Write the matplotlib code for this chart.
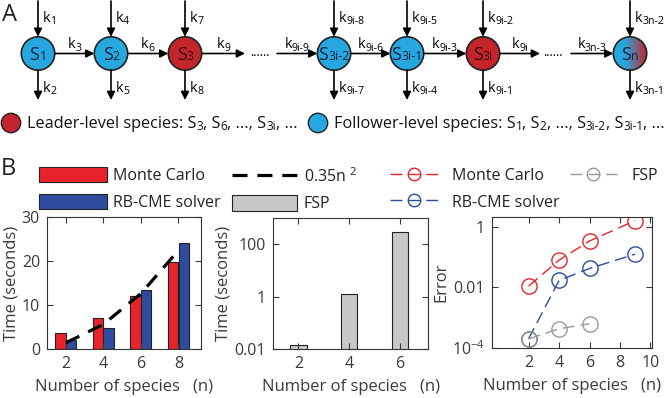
import re
import numpy as np
import matplotlib
matplotlib.use('Agg')
import matplotlib.pyplot as plt
from matplotlib.patches import Circle, Patch
from matplotlib.lines import Line2D
from matplotlib.colors import LinearSegmentedColormap
from matplotlib.ticker import FixedLocator, FixedFormatter, NullLocator

plt.rcParams['font.family'] = ['Open Sans', 'DejaVu Sans']
plt.rcParams['mathtext.default'] = 'regular'

# ---- panel A: reaction chain ----
node_names = ['S_{1}', 'S_{2}', 'S_{3}', 'S_{3i-2}', 'S_{3i-1}', 'S_{3i}', 'S_{n}']
node_kind = ['f', 'f', 'l', 'f', 'f', 'l', 'mix']
in_rates = ['k_{1}', 'k_{4}', 'k_{7}', 'k_{9i-8}', 'k_{9i-5}', 'k_{9i-2}', 'k_{3n-2}']
out_rates = ['k_{2}', 'k_{5}', 'k_{8}', 'k_{9i-7}', 'k_{9i-4}', 'k_{9i-1}', 'k_{3n-1}']
link_rates = ['k_{3}', 'k_{6}', 'k_{9}', 'k_{9i-9}', 'k_{9i-6}', 'k_{9i-3}', 'k_{9i}', 'k_{3n-3}']
leader_text = 'Leader-level species: S_{3}, S_{6}, ..., S_{3i}, ...'
follower_text = 'Follower-level species: S_{1}, S_{2}, ..., S_{3i-2}, S_{3i-1}, ...'

# ---- panel B data ----
n_bar = [2, 4, 6, 8]
t_mc = [3.6, 7.1, 12.0, 19.7]
t_rb = [2.0, 4.8, 13.4, 24.1]
t_fit = [1.4, 5.6, 12.6, 22.4]      # 0.35 n^2
n_fsp = [2, 4, 6]
t_fsp = [0.014, 1.3, 290]
n_err = [2, 4, 6, 9]
err_mc = [0.011, 0.079, 0.34, 1.6]
err_rb = [2.0e-4, 0.017, 0.042, 0.125]
n_err_fsp = [2, 4, 6]
err_fsp = [2.0e-4, 4.3e-4, 6.3e-4]

c_red = '#e8232b'
c_blue = '#2e4c9e'
c_gray = '#c8c8c8'
c_node_b = '#27a7df'
c_node_r = '#c3252c'
txt = '#3a3a3a'

W, H = 667, 398
fig = plt.figure(figsize=(W / 100, H / 100), dpi=100)
renderer = fig.canvas.get_renderer()


def frame(l, t, r, b):
    return [l / W, 1 - b / H, (r - l) / W, (b - t) / H]


ax0 = fig.add_axes([0, 0, 1, 1])
ax0.axis('off')
ax0.set_xlim(0, W)
ax0.set_ylim(H, 0)


def rich(x, y, s, size, ha='left', color='k', sub_scale=0.72, drop=2.5, zorder=5):
    # text with _{..} subscripts, drawn piece by piece (ax0 units are pixels)
    pieces = [p for p in re.split(r'(_\{[^}]*\})', s) if p]
    arts = []
    for p in pieces:
        if p.startswith('_{'):
            t = ax0.text(0, y + drop, p[2:-1], fontsize=size * sub_scale, color=color,
                         va='baseline', ha='left', zorder=zorder)
        else:
            t = ax0.text(0, y, p, fontsize=size, color=color, va='baseline', ha='left',
                         zorder=zorder)
        arts.append(t)
    widths = [a.get_window_extent(renderer).width for a in arts]
    total = sum(widths)
    cur = x - (total / 2 if ha == 'center' else 0)
    for a, w in zip(arts, widths):
        a.set_x(cur)
        cur += w


cy, rad = 53.5, 16.7
node_x = [38, 111, 185, 334, 407, 483, 630]
arrow = dict(arrowstyle='-|>', color='k', lw=1.2, mutation_scale=12,
             shrinkA=0, shrinkB=0)
mix = LinearSegmentedColormap.from_list('mix', [(0, c_node_b), (0.35, c_node_b), (1, c_node_r)])

for name, cx, kind, kin, kout in zip(node_names, node_x, node_kind, in_rates, out_rates):
    if kind == 'mix':
        c = Circle((cx, cy), rad, facecolor='none', edgecolor='#222222', lw=1.2, zorder=4)
        ax0.add_patch(c)
        im = ax0.imshow(np.linspace(0, 1, 64)[None, :], cmap=mix, aspect='auto',
                        extent=(cx - rad, cx + rad, cy + rad, cy - rad), zorder=3)
        im.set_clip_path(c)
    else:
        fc = c_node_b if kind == 'f' else c_node_r
        ax0.add_patch(Circle((cx, cy), rad, facecolor=fc, edgecolor='#222222', lw=1.2, zorder=3))
    rich(cx, cy + 6, name, 13, ha='center', color='#13213d' if kind != 'l' else '#3a0a0a',
         sub_scale=0.68, drop=0.5)
    ax0.annotate('', xy=(cx, cy - rad), xytext=(cx, 1), arrowprops=arrow)
    ax0.annotate('', xy=(cx, 100), xytext=(cx, cy + rad), arrowprops=arrow)
    rich(cx + 4.5, 21.5, kin, 10.5)
    rich(cx + 4.5, 91.5, kout, 10.5)

# horizontal links: (start, end)
links = [(38 + rad, 111 - rad), (111 + rad, 185 - rad), (185 + rad, 245), (277, 334 - rad),
         (334 + rad, 407 - rad), (407 + rad, 483 - rad), (483 + rad, 540), (571, 630 - rad)]
for (x1, x2), lab in zip(links, link_rates):
    ax0.annotate('', xy=(x2, cy), xytext=(x1, cy), arrowprops=arrow)
    rich((x1 + x2) / 2, 48.5, lab, 10.5, ha='center')
for xd in [259.5, 553]:
    ax0.text(xd, cy - 1, '......', fontsize=9, ha='center', va='center')

ax0.add_patch(Circle((11, 123), 9.7, facecolor=c_node_r, edgecolor='#222222', lw=1))
rich(27, 128.5, leader_text, 11.7, color='#111111', drop=1.5)
ax0.add_patch(Circle((318, 123), 9.7, facecolor=c_node_b, edgecolor='#222222', lw=1))
rich(334, 128.5, follower_text, 11.7, color='#111111', drop=1.5)

ax0.text(2, 21, 'A', fontsize=17, ha='left', va='baseline', color='#222222')
ax0.text(1, 175, 'B', fontsize=17, ha='left', va='baseline', color='#222222')

# ---- panel B axes ----
ax1 = fig.add_axes(frame(47, 217, 201, 349))
ax2 = fig.add_axes(frame(273, 218, 428, 349))
ax3 = fig.add_axes(frame(492, 217, 652, 348))

for ax in (ax1, ax2, ax3):
    ax.tick_params(direction='in', top=True, right=True, length=4, width=0.8,
                   labelsize=11.5, colors=txt, pad=5)
    for s in ax.spines.values():
        s.set_color('#333333')
        s.set_linewidth(0.8)
    ax.set_xlabel('Number of species   (n)', fontsize=12, color=txt, labelpad=5)

nb = np.array(n_bar)
ax1.bar(nb - 0.28, t_mc, width=0.55, color=c_red, edgecolor='#222222', lw=0.8)
ax1.bar(nb + 0.28, t_rb, width=0.55, color=c_blue, edgecolor='#222222', lw=0.8)
ax1.plot(n_bar, t_fit, color='k', lw=2.3, ls=(0, (4.7, 3.1)))
ax1.set_xlim(1, 9.2)
ax1.set_ylim(0, 30)
ax1.set_xticks(n_bar)
ax1.set_yticks([0, 10, 20, 30])
ax1.set_ylabel('Time (seconds)', fontsize=12, color=txt, labelpad=2)

ax2.bar(n_fsp, t_fsp, width=0.64, color=c_gray, edgecolor='#222222', lw=0.8)
ax2.set_yscale('log')
ax2.set_xlim(1, 7.1)
ax2.set_ylim(0.01, 1000)
ax2.set_xticks(n_fsp)
ax2.yaxis.set_major_locator(FixedLocator([0.01, 1, 100]))
ax2.yaxis.set_major_formatter(FixedFormatter(['0.01', '1', '100']))
ax2.yaxis.set_minor_locator(NullLocator())
ax2.set_ylabel('Time (seconds)', fontsize=12, color=txt, labelpad=2)

dash = (0, (8.6, 4.3))
ax3.plot(n_err, err_mc, color=c_red, lw=1, ls=dash, marker='o', ms=11, mfc='none', mew=1)
ax3.plot(n_err, err_rb, color=c_blue, lw=1, ls=dash, marker='o', ms=11, mfc='none', mew=1)
ax3.plot(n_err_fsp, err_fsp, color='#999999', lw=1, ls=dash, marker='o', ms=11, mfc='none', mew=1)
ax3.set_yscale('log')
ax3.set_xlim(-0.4, 10.1)
ax3.set_ylim(1e-4, 2.1)
ax3.set_xticks([2, 4, 6, 8, 10])
ax3.yaxis.set_major_locator(FixedLocator([1e-4, 1e-2, 1]))
ax3.yaxis.set_major_formatter(FixedFormatter(['10$^{-4}$', '0.01', '1']))
ax3.yaxis.set_minor_locator(NullLocator())
ax3.set_ylabel('Error', fontsize=12, color=txt, labelpad=2)

# ---- legends ----
leg_kw = dict(frameon=False, fontsize=11.5, borderpad=0, borderaxespad=0,
              labelcolor='#222222')
top = 1 - 167 / H
fig.legend(handles=[Patch(facecolor=c_red, edgecolor='#222222', lw=0.8, label='Monte Carlo'),
                    Patch(facecolor=c_blue, edgecolor='#222222', lw=0.8, label='RB-CME solver')],
           loc='upper left', bbox_to_anchor=(39 / W, top), handlelength=4.25,
           handleheight=1.1, labelspacing=0.6, handletextpad=0.38, **leg_kw)
fig.legend(handles=[Line2D([], [], color='k', lw=2.3, ls=(0, (4.7, 3.1)), label='0.35n $^2$'),
                    Patch(facecolor=c_gray, edgecolor='#222222', lw=0.8, label='FSP')],
           loc='upper left', bbox_to_anchor=(232 / W, top), handlelength=4.1,
           handleheight=1.1, labelspacing=0.6, handletextpad=0.4, **leg_kw)
fig.legend(handles=[Line2D([], [], color=c_red, lw=1, ls=dash, marker='o', ms=9, mfc='none', label='Monte Carlo'),
                    Line2D([], [], color=c_blue, lw=1, ls=dash, marker='o', ms=9, mfc='none', label='RB-CME solver'),
                    Line2D([], [], color='#999999', lw=1, ls=dash, marker='o', ms=9, mfc='none', label='FSP')],
           loc='upper left', bbox_to_anchor=(390 / W, top), ncol=2, handlelength=3.0,
           handleheight=1.1, labelspacing=0.6, handletextpad=0.9, columnspacing=0.6, **leg_kw)

fig.savefig('out.png', dpi=100)
